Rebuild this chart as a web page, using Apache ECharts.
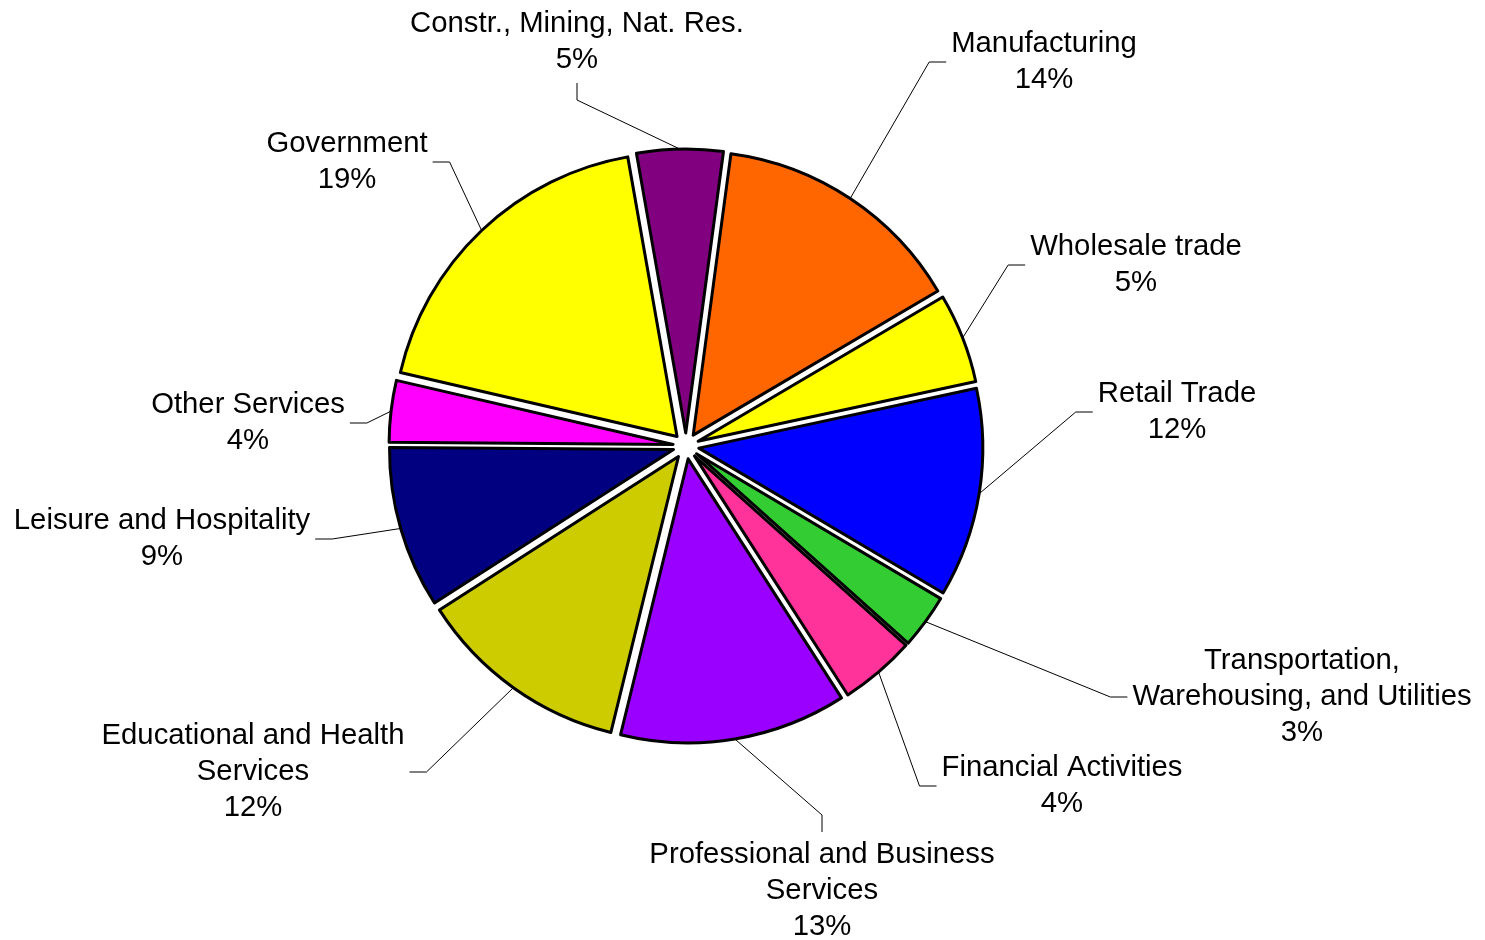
<!DOCTYPE html>
<html><head><meta charset="utf-8">
<script src="https://cdn.jsdelivr.net/npm/echarts@6/dist/echarts.min.js"></script>
<style>html,body{margin:0;padding:0;background:#fff}#chart{width:1485px;height:940px}</style>
</head><body><div id="chart"></div>
<script>
const categories = [
  'Constr., Mining, Nat. Res.',
  'Manufacturing',
  'Wholesale trade',
  'Retail Trade',
  'Transportation,\nWarehousing, and Utilities',
  'Financial Activities',
  'Professional and Business\nServices',
  'Educational and Health\nServices',
  'Leisure and Hospitality',
  'Other Services',
  'Government'
];
const shares = [4.9, 14.4, 5.1, 11.9, 3.1, 4.3, 12.9, 12.1, 9.2, 3.5, 18.6];
const colors = ['#800080','#FF6600','#FFFF00','#0000FF','#33CC33','#FF3399','#9900FF','#CCCC00','#000080','#FF00FF','#FFFF00'];

// label block centre and the side where its leader line attaches (layout only)
const labelPlace = [
  [577, 42, 'bottom'],
  [1044, 62, 'left'],
  [1136, 265, 'left'],
  [1177, 412, 'left'],
  [1302, 697, 'left'],
  [1062, 786, 'left'],
  [822, 891, 'top'],
  [253, 772, 'right'],
  [162, 539, 'right'],
  [248, 423, 'right'],
  [347, 162, 'right']
];

const CX = 686, CY = 446, R = 284, EXPLODE = 13;

const chart = echarts.init(document.getElementById('chart'), null, {renderer: 'canvas'});

const common = {
  type: 'pie',
  center: [CX, CY],
  radius: R,
  startAngle: 100,
  clockwise: true,
  percentPrecision: 0,
  avoidLabelOverlap: false,
  emphasis: {disabled: true}
};

chart.setOption({
  backgroundColor: '#ffffff',
  animation: false,
  series: [
    Object.assign({}, common, {
      selectedMode: 'multiple',
      selectedOffset: EXPLODE,
      data: categories.map((c, i) => ({name: c, value: shares[i], selected: true, itemStyle: {color: colors[i]}})),
      itemStyle: {borderColor: '#000', borderWidth: 3},
      select: {itemStyle: {borderColor: '#000', borderWidth: 3}},
      label: {show: false},
      labelLine: {show: false}
    }),
    Object.assign({}, common, {
      silent: true,
      selectedMode: false,
      data: categories.map((c, i) => ({name: c, value: shares[i]})),
      itemStyle: {color: 'rgba(0,0,0,0)', borderWidth: 0},
      label: {
        show: true, position: 'outside', alignTo: 'none',
        formatter: '{b}\n{d}%',
        color: '#000', fontFamily: "'Liberation Sans', Arial, sans-serif",
        fontSize: 29.3, lineHeight: 36
      },
      labelLine: {show: true, length: 20, length2: 17, lineStyle: {color: '#000', width: 1}},
      labelLayout: function (p) {
        const pl = labelPlace[p.dataIndex];
        const w = p.labelRect.width, h = p.labelRect.height;
        const x = pl[0], y = pl[1], side = pl[2];
        const gap = 5, len = 17;
        let e, m;
        if (side === 'left') { e = [x - w / 2 - gap, y]; m = [e[0] - len, y]; }
        else if (side === 'right') { e = [x + w / 2 + gap, y]; m = [e[0] + len, y]; }
        else if (side === 'top') { e = [x, y - h / 2 - gap]; m = [x, e[1] - len]; }
        else { e = [x, y + h / 2 + gap]; m = [x, e[1] + len]; }
        let a = m;
        if (p.labelLinePoints) {
          const a0 = p.labelLinePoints[0];
          const ddx = a0[0] - CX, ddy = a0[1] - CY;
          const d = Math.sqrt(ddx * ddx + ddy * ddy) || 1;
          a = [a0[0] + EXPLODE * ddx / d, a0[1] + EXPLODE * ddy / d];
        }
        return {x: x, y: y, align: 'center', verticalAlign: 'middle', labelLinePoints: [a, m, e]};
      }
    })
  ]
});
</script></body></html>
